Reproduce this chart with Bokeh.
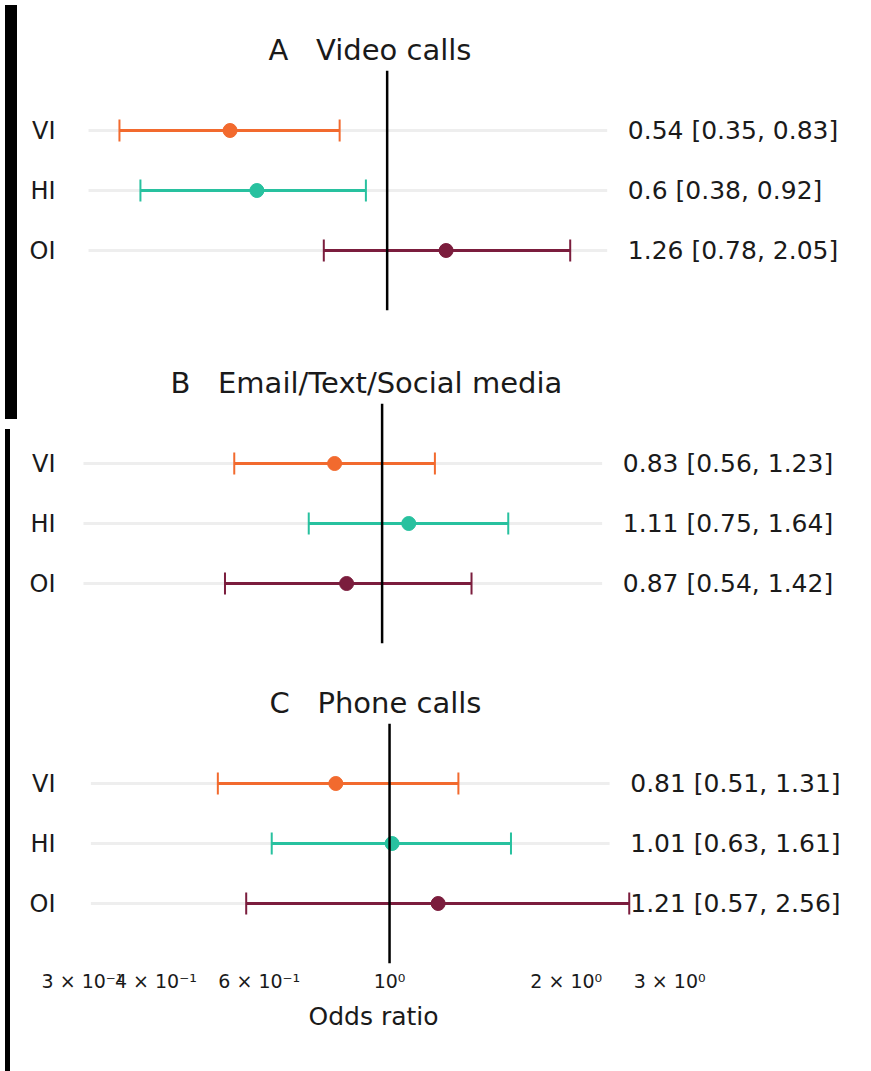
import math
from bokeh.plotting import figure
from bokeh.models import Range1d, FixedTicker, Span, ColumnDataSource, Div, Title
from bokeh.layouts import column, row
from bokeh.core.properties import value
from bokeh.embed import file_html
from bokeh.resources import INLINE

# ---------------- data ----------------
groups = ["VI", "HI", "OI"]
group_colors = ["#f26a2e", "#28c19f", "#7b1d3d"]

panel_letters = ["A", "B", "C"]
panel_names = ["Video calls", "Email/Text/Social media", "Phone calls"]

video_or = [0.54, 0.6, 1.26]
video_lo = [0.35, 0.38, 0.78]
video_hi = [0.83, 0.92, 2.05]

email_or = [0.83, 1.11, 0.87]
email_lo = [0.56, 0.75, 0.54]
email_hi = [1.23, 1.64, 1.42]

phone_or = [0.81, 1.01, 1.21]
phone_lo = [0.51, 0.63, 0.57]
phone_hi = [1.31, 1.61, 2.56]

x_ticks = [0.3, 0.4, 0.6, 1, 2, 3]
x_tick_labels = ["3 × 10⁻¹", "4 × 10⁻¹", "6 × 10⁻¹", "10⁰", "2 × 10⁰", "3 × 10⁰"]
x_axis_label = "Odds ratio"

# ---------------- style ----------------
FONT = "DejaVu Sans"
TEXT_COLOR = "#1a1a1a"
LABEL_X = 2.57           # where the "OR [lo, hi]" annotation starts
GHOST_X = (0.31, 2.37)   # faint background row lines
ROW_Y = [3, 2, 1]
PX_PER_LN = 255.0
FIG_W = 843
LEFT, RIGHT = 49, 14
FRAME_W = FIG_W - LEFT - RIGHT

panels = [
    dict(orv=video_or, lo=video_lo, hi=video_hi, height=330, top=70, bottom=20,
         x_start=0.29, axis=False, title_offset=197),
    dict(orv=email_or, lo=email_lo, hi=email_hi, height=330, top=73, bottom=17,
         x_start=0.2958, axis=False, title_offset=99),
    dict(orv=phone_or, lo=phone_lo, hi=phone_hi, height=403, top=63, bottom=100,
         x_start=0.2873, axis=True, title_offset=198),
]

figs = []
for letter, name, cfg in zip(panel_letters, panel_names, panels):
    x_end = cfg["x_start"] * math.exp(FRAME_W / PX_PER_LN)
    p = figure(width=FIG_W, height=cfg["height"], x_axis_type="log",
               x_range=Range1d(cfg["x_start"], x_end), y_range=Range1d(0, 4),
               output_backend="svg", toolbar_location=None,
               min_border_left=LEFT, min_border_right=RIGHT,
               min_border_top=cfg["top"], min_border_bottom=cfg["bottom"])
    p.outline_line_color = None
    p.grid.visible = False
    p.background_fill_color = "white"
    p.border_fill_color = "white"

    p.title = Title(text=f"{letter}\u00a0\u00a0\u00a0{name}", align="left",
                    offset=cfg["title_offset"],
                    text_font=FONT, text_font_size="29px", text_font_style="normal",
                    text_color=TEXT_COLOR, standoff=8)

    src = ColumnDataSource(dict(
        y=ROW_Y, orv=cfg["orv"], lo=cfg["lo"], hi=cfg["hi"], color=group_colors,
        gx0=[GHOST_X[0]] * 3, gx1=[GHOST_X[1]] * 3, lx=[LABEL_X] * 3,
        txt=[f"{o:g} [{l:g}, {h:g}]" for o, l, h in zip(cfg["orv"], cfg["lo"], cfg["hi"])],
    ))

    # faint background row lines
    p.segment(x0="gx0", x1="gx1", y0="y", y1="y", source=src,
              line_color="#eeeeee", line_width=3)

    # reference line at OR = 1
    p.add_layout(Span(location=1, dimension="height", line_color="black", line_width=2.5))

    # CI lines + caps
    p.segment(x0="lo", x1="hi", y0="y", y1="y", source=src, line_color="color", line_width=3)
    p.scatter(x="lo", y="y", source=src, marker="dash", angle=math.pi / 2, size=22,
              line_color="color", line_width=2)
    p.scatter(x="hi", y="y", source=src, marker="dash", angle=math.pi / 2, size=22,
              line_color="color", line_width=2)
    # point estimates
    p.scatter(x="orv", y="y", source=src, marker="circle", size=14,
              fill_color="color", line_color="color")

    # "OR [lo, hi]" annotations
    p.text(x="lx", y="y", text="txt", source=src, text_align="left", text_baseline="middle",
           text_font=value(FONT), text_font_size="25px", text_color=TEXT_COLOR)

    # y axis
    p.yaxis.ticker = FixedTicker(ticks=ROW_Y)
    p.yaxis.major_label_overrides = {y: g for y, g in zip(ROW_Y, groups)}
    p.yaxis.axis_line_color = None
    p.yaxis.major_tick_line_color = None
    p.yaxis.minor_tick_line_color = None
    p.yaxis.major_tick_out = 0
    p.yaxis.major_tick_in = 0
    p.yaxis.major_label_standoff = 16
    p.yaxis.major_label_text_font = FONT
    p.yaxis.major_label_text_font_size = "24px"
    p.yaxis.major_label_text_color = TEXT_COLOR

    # x axis
    if cfg["axis"]:
        p.xaxis.ticker = FixedTicker(ticks=x_ticks)
        p.xaxis.major_label_overrides = {t: l for t, l in zip(x_ticks, x_tick_labels)}
        p.xaxis.axis_line_color = None
        p.xaxis.major_tick_line_color = None
        p.xaxis.minor_tick_line_color = None
        p.xaxis.major_tick_out = 0
        p.xaxis.major_tick_in = 0
        p.xaxis.major_label_standoff = 6
        p.xaxis.major_label_text_font = FONT
        p.xaxis.major_label_text_font_size = "19px"
        p.xaxis.major_label_text_color = TEXT_COLOR
        # axis title, placed under the tick labels
        p.add_layout(Title(text=x_axis_label, align="left", offset=237,
                           text_font=FONT, text_font_size="25px", text_font_style="normal",
                           text_color=TEXT_COLOR, standoff=11), "below")
    else:
        p.xaxis.visible = False
    figs.append(p)

edge = column(
    Div(width=12, height=414, styles={"background-color": "black"}),
    Div(width=5, height=649, styles={"background-color": "black"}),
    spacing=0,
)
layout = row(edge, column(*figs, spacing=0), spacing=0)

open("out.html", "w").write(file_html(layout, INLINE))
